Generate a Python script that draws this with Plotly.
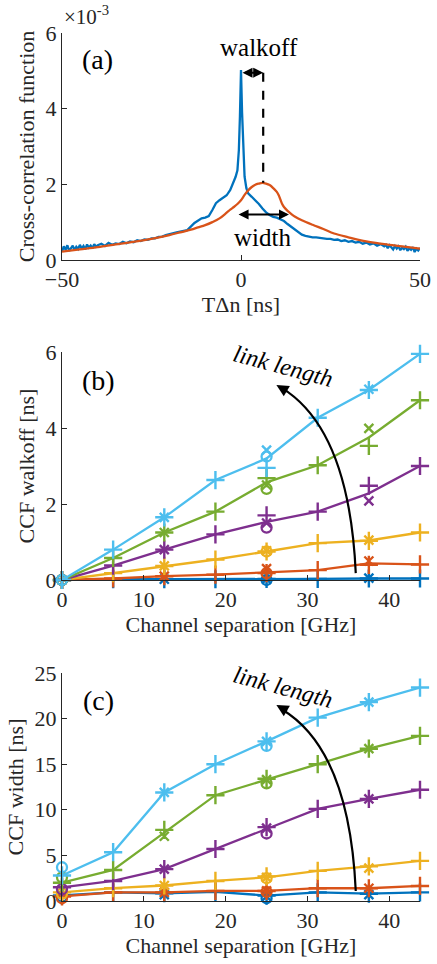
import plotly.graph_objects as go

# ---------------- data ----------------
# panel (a): cross-correlation function (units of 1e-3)
tdn_blue = [-50, -49.5, -49, -48.5, -48, -47.5, -47, -46.5, -46, -45.5, -45, -44.5, -44, -43.5, -43,
            -42.5, -42, -41.5, -41, -40.5, -40, -39, -38, -37, -36, -35, -34, -33,
            -32, -31, -30, -29, -28, -27, -26, -25, -24, -23, -22, -21, -20, -19, -18, -17, -16,
            -15, -13, -12, -11, -10, -9, -8, -7, -6, -5, -4, -3, -2, -1.5, -1, -0.6, -0.3, 0,
            0.3, 0.6, 1, 1.5, 2, 3, 4, 5, 6, 7, 8, 9, 10, 11, 12, 13, 14, 15, 16, 17, 18, 19, 20,
            21, 22, 23, 24, 25, 26, 27, 28, 29, 30, 31, 32, 33, 34, 35, 36, 37, 38, 39, 40, 40.5, 41,
            41.5, 42, 42.5, 43, 43.5, 44, 44.5, 45, 45.5, 46, 46.5, 47, 47.5, 48, 48.5, 49, 49.5, 50]
ccf_blue = [0.22, 0.36, 0.27, 0.39, 0.24, 0.33, 0.38, 0.26, 0.35, 0.29, 0.40, 0.30, 0.37, 0.28, 0.41,
            0.33, 0.38, 0.31, 0.42, 0.35, 0.39, 0.43, 0.37, 0.45, 0.40, 0.44, 0.42, 0.48, 0.44, 0.49,
            0.47, 0.52, 0.50, 0.54, 0.53, 0.57, 0.57, 0.61, 0.62, 0.66, 0.69, 0.71, 0.73, 0.75, 0.77,
            0.79, 0.98, 1.05, 1.10, 1.12, 1.16, 1.32, 1.50, 1.58, 1.64, 1.71, 1.85, 2.06, 2.20, 2.37,
            2.90, 3.80, 5.02,
            3.90, 2.90, 2.20, 1.90, 1.76, 1.67, 1.58, 1.48, 1.36, 1.26, 1.19, 1.14, 1.12, 1.08, 1.03,
            0.95, 0.88, 0.81, 0.73, 0.67, 0.64, 0.62, 0.60,
            0.60, 0.58, 0.58, 0.56, 0.56, 0.53, 0.54, 0.50, 0.52, 0.48, 0.50, 0.46, 0.48, 0.43, 0.46,
            0.41, 0.44, 0.38, 0.42, 0.36, 0.40, 0.31, 0.39, 0.34, 0.28, 0.37, 0.30, 0.36, 0.26, 0.33,
            0.29, 0.35, 0.24, 0.31, 0.27, 0.34, 0.21, 0.30, 0.25, 0.32, 0.17]
tdn_orange = [-50, -45, -40, -35, -30, -25, -20, -17, -14, -12, -10, -8, -6, -4, -3, -2, -1, 0, 1, 2,
              3, 4, 5, 6, 7, 8, 9, 10, 10.5, 11, 11.5, 12, 13, 14, 15, 17, 20, 23, 26, 30, 35, 40,
              45, 50]
ccf_orange = [0.22, 0.28, 0.34, 0.41, 0.48, 0.56, 0.66, 0.73, 0.80, 0.86, 0.92, 1.00, 1.10, 1.25,
              1.33, 1.40, 1.48, 1.58, 1.72, 1.84, 1.93, 1.99, 2.02, 2.04, 2.02, 1.98, 1.90, 1.80,
              1.72, 1.60, 1.48, 1.40, 1.30, 1.22, 1.15, 1.05, 0.93, 0.82, 0.70, 0.60, 0.49, 0.42,
              0.36, 0.30]

# panels (b), (c): channel separation [GHz]
chan_sep = [0, 6.25, 12.5, 18.75, 25, 31.25, 37.5, 43.75]
sep_x = [12.5, 25, 37.5]
sep_o = [0, 25]

# CCF walkoff [ns]: rows = blue, orange, yellow, purple, green, light blue
walk_line = [
    [0, 0.02, 0.02, 0.02, 0.03, 0.03, 0.04, 0.04],
    [0, 0.04, 0.10, 0.14, 0.20, 0.26, 0.44, 0.41],
    [0, 0.18, 0.37, 0.54, 0.75, 0.97, 1.04, 1.25],
    [0, 0.38, 0.80, 1.20, 1.53, 1.80, 2.28, 3.00],
    [0, 0.58, 1.25, 1.80, 2.57, 3.02, 3.75, 4.73],
    [0, 0.80, 1.65, 2.63, 3.20, 4.27, 5.00, 5.95],
]
walk_plus = [
    [0, 0.02, 0.02, 0.02, 0.03, 0.03, 0.04, 0.04],
    [0, 0.04, 0.10, 0.14, 0.18, 0.26, 0.40, 0.41],
    [0, 0.18, 0.37, 0.54, 0.75, 0.97, 1.03, 1.25],
    [0, 0.38, 0.80, 1.20, 1.70, 1.80, 2.48, 3.00],
    [0, 0.58, 1.25, 1.80, 2.68, 3.02, 3.53, 4.73],
    [0, 0.80, 1.65, 2.63, 2.95, 4.27, 5.00, 5.95],
]
walk_cross = [
    [0.02, 0.02, 0.05],
    [0.10, 0.30, 0.50],
    [0.37, 0.77, 1.05],
    [0.80, 1.50, 2.08],
    [1.25, 2.50, 3.99],
    [1.65, 3.42, 5.02],
]
walk_circle = [
    [0, 0.00],
    [0, 0.18],
    [0, 0.75],
    [0, 1.38],
    [0, 2.40],
    [0, 3.25],
]

# CCF width [ns]
width_line = [
    [0.6, 0.95, 0.85, 1.0, 0.6, 0.95, 0.8, 0.95],
    [0.5, 0.95, 0.95, 1.1, 1.1, 1.4, 1.4, 1.65],
    [0.95, 1.4, 1.7, 2.2, 2.6, 3.3, 3.8, 4.4],
    [1.5, 2.2, 3.5, 5.7, 7.9, 10.1, 11.2, 12.2],
    [2.0, 3.4, 7.5, 11.6, 13.3, 15.0, 16.7, 18.1],
    [2.8, 5.35, 11.9, 15.0, 17.5, 20.1, 21.8, 23.4],
]
width_plus = [
    [0.6, 0.95, 0.85, 1.0, 0.6, 0.95, 0.8, 0.95],
    [0.5, 0.95, 0.95, 1.1, 1.1, 1.4, 1.4, 1.65],
    [0.95, 1.4, 1.7, 2.2, 2.7, 3.3, 3.8, 4.4],
    [1.5, 2.2, 3.5, 5.7, 8.1, 10.1, 11.2, 12.2],
    [2.0, 3.4, 7.8, 11.6, 13.4, 15.0, 16.7, 18.1],
    [2.8, 5.35, 11.9, 15.0, 17.5, 20.1, 21.8, 23.4],
]
width_cross = [
    [0.7, 0.5, 0.7],
    [0.95, 1.1, 1.4],
    [1.7, 2.6, 3.6],
    [3.5, 8.0, 11.2],
    [7.1, 13.3, 16.7],
    [11.9, 17.5, 21.8],
]
width_circle = [
    [0.5, 0.3],
    [0.3, 1.0],
    [0.8, 2.5],
    [1.3, 7.4],
    [2.6, 12.9],
    [3.7, 17.0],
]

colors = ["#0072BD", "#D95319", "#EDB120", "#7E2F8E", "#77AC30", "#4DBEEE"]

FONT = "Liberation Serif"
AX = "#262626"

fig = go.Figure()

# ---- panel (a)
fig.add_trace(go.Scatter(x=tdn_blue, y=ccf_blue, mode="lines",
                         line=dict(color=colors[0], width=2.3), xaxis="x", yaxis="y"))
fig.add_trace(go.Scatter(x=tdn_orange, y=ccf_orange, mode="lines",
                         line=dict(color=colors[1], width=2.3, shape="spline"), xaxis="x", yaxis="y"))


def add_panel(xa, ya, line, plus, cross, circ):
    for i, c in enumerate(colors):
        fig.add_trace(go.Scatter(x=chan_sep, y=line[i], mode="lines",
                                 line=dict(color=c, width=2.3), xaxis=xa, yaxis=ya))
        fig.add_trace(go.Scatter(x=chan_sep, y=plus[i], mode="markers", cliponaxis=False,
                                 marker=dict(symbol="cross-thin", size=13, line=dict(color=c, width=2.4)),
                                 xaxis=xa, yaxis=ya))
        fig.add_trace(go.Scatter(x=sep_x, y=cross[i], mode="markers", cliponaxis=False,
                                 marker=dict(symbol="x-thin", size=9, line=dict(color=c, width=2.4)),
                                 xaxis=xa, yaxis=ya))
        fig.add_trace(go.Scatter(x=sep_o, y=circ[i], mode="markers", cliponaxis=False,
                                 marker=dict(symbol="circle-open", size=10, color=c,
                                             line=dict(color=c, width=2.3)),
                                 xaxis=xa, yaxis=ya))


add_panel("x2", "y2", walk_line, walk_plus, walk_cross, walk_circle)
add_panel("x3", "y3", width_line, width_plus, width_cross, width_circle)

axis_common = dict(showline=True, linecolor=AX, linewidth=1, ticks="inside", ticklen=5,
                   tickcolor=AX, showgrid=False, zeroline=False, mirror=False, automargin=False,
                   tickfont=dict(family=FONT, size=22, color=AX))
title_font = dict(family=FONT, size=22, color=AX)

fig.update_layout(
    width=437, height=964,
    margin=dict(l=62, r=17, t=33, b=63),
    plot_bgcolor="white", paper_bgcolor="white",
    showlegend=False,
    font=dict(family=FONT, color=AX),
    xaxis=dict(domain=[0, 1], anchor="y", range=[-50, 50], tickvals=[-50, 0, 50],
               title=dict(text="TΔn [ns]", font=title_font, standoff=4), **axis_common),
    yaxis=dict(domain=[0.7385, 1], anchor="x", range=[0, 6], tickvals=[0, 2, 4, 6],
               title=dict(text="Cross-correlation function", font=title_font, standoff=4), **axis_common),
    xaxis2=dict(domain=[0, 1], anchor="y2", range=[0, 43.75], tickvals=[0, 10, 20, 30, 40],
                title=dict(text="Channel separation [GHz]", font=title_font, standoff=5), **axis_common),
    yaxis2=dict(domain=[0.3698, 0.6325], anchor="x2", range=[0, 6], tickvals=[0, 2, 4, 6],
                title=dict(text="CCF walkoff [ns]", font=title_font, standoff=4), **axis_common),
    xaxis3=dict(domain=[0, 1], anchor="y3", range=[0, 43.75], tickvals=[0, 10, 20, 30, 40],
                title=dict(text="Channel separation [GHz]", font=title_font, standoff=5), **axis_common),
    yaxis3=dict(domain=[0, 0.2627], anchor="x3", range=[0, 25], tickvals=[0, 5, 10, 15, 20, 25],
                title=dict(text="CCF width [ns]", font=title_font, standoff=4), **axis_common),
)

ann_font = dict(family=FONT, size=25, color="black")

annotations = [
    dict(xref="paper", yref="paper", x=0.0, y=1.02, xanchor="left", yanchor="middle",
         text="×10<sup>-3</sup>", showarrow=False, font=dict(family=FONT, size=21, color=AX)),
    dict(xref="x", yref="y", x=-40, y=5.3, text="(a)", showarrow=False, font=dict(family=FONT, size=28, color="black")),
    dict(xref="x", yref="y", x=5, y=5.62, text="walkoff", showarrow=False, font=ann_font),
    dict(xref="x", yref="y", x=6, y=0.6, text="width", showarrow=False, font=ann_font),
    # walkoff double arrow
    dict(xref="x", yref="y", axref="x", ayref="y", x=6.2, y=4.95, ax=0, ay=4.95, text="",
         showarrow=True, arrowside="end+start", arrowhead=2, arrowsize=1, arrowwidth=2, arrowcolor="black"),
    # width double arrow
    dict(xref="x", yref="y", axref="x", ayref="y", x=13.4, y=1.2, ax=-1.1, ay=1.2, text="",
         showarrow=True, arrowside="end+start", arrowhead=2, arrowsize=1, arrowwidth=2, arrowcolor="black"),
    dict(xref="x2", yref="y2", x=4.4, y=5.26, text="(b)", showarrow=False, font=dict(family=FONT, size=28, color="black")),
    dict(xref="x3", yref="y3", x=4.4, y=22.0, text="(c)", showarrow=False, font=dict(family=FONT, size=28, color="black")),
    dict(xref="x2", yref="y2", x=26.95, y=5.62, text="<i>link length</i>", textangle=15,
         showarrow=False, font=dict(family=FONT, size=24, color="black")),
    dict(xref="x3", yref="y3", x=26.95, y=23.45, text="<i>link length</i>", textangle=15,
         showarrow=False, font=dict(family=FONT, size=24, color="black")),
    # arrowheads of curved arrows
    dict(xref="x2", yref="y2", x=26.2, y=5.13, ax=12, ay=7, text="", showarrow=True,
         arrowhead=2, arrowsize=1.1, arrowwidth=2.2, arrowcolor="black"),
    dict(xref="x3", yref="y3", x=26.2, y=21.5, ax=12, ay=7, text="", showarrow=True,
         arrowhead=2, arrowsize=1.1, arrowwidth=2.2, arrowcolor="black"),
]
fig.update_layout(annotations=annotations)

shapes = [
    dict(type="line", xref="x", yref="y", x0=6.2, x1=6.2, y0=4.95, y1=2.04,
         line=dict(color="black", width=2.2, dash="dash")),
    dict(type="path", xref="x2", yref="y2", path="M 35.9,0.18 Q 35.1,3.95 26.9,5.05",
         line=dict(color="black", width=2.2)),
    dict(type="path", xref="x3", yref="y3", path="M 35.9,1.1 Q 35.1,16.56 26.9,21.0",
         line=dict(color="black", width=2.2)),
]
fig.update_layout(shapes=shapes)

fig.write_html("out.html", config={"displayModeBar": False},
               post_script="document.body.style.margin='0';document.body.style.overflow='hidden';")
